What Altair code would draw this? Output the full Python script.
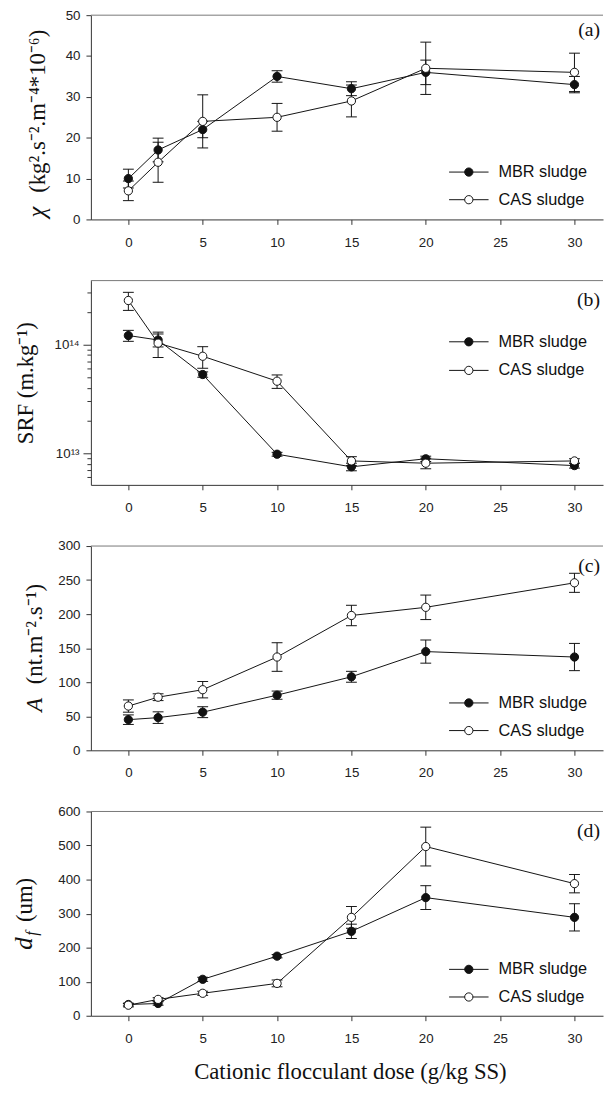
import altair as alt
import pandas as pd

# ---------------- data ----------------
dose = [0, 2, 5, 10, 15, 20, 30]
series_names = ["MBR sludge", "CAS sludge"]

chi_mbr = [10, 17, 22, 35, 32, 36, 33]
chi_mbr_err = [2.3, 2.9, 2.0, 1.4, 1.7, 3.0, 2.0]
chi_cas = [7, 14, 24, 25, 29, 37, 36]
chi_cas_err = [2.4, 4.9, 6.5, 3.4, 3.9, 6.4, 4.7]

srf_mbr = [1.21e14, 1.10e14, 5.3e13, 9.8e12, 7.5e12, 8.9e12, 7.7e12]
srf_mbr_err = [0.14e14, 0.15e14, 0.3e13, 0.4e12, 0.6e12, 0.5e12, 0.4e12]
srf_cas = [2.54e14, 1.03e14, 7.8e13, 4.6e13, 8.5e12, 8.1e12, 8.5e12]
srf_cas_err = [0.48e14, 0.27e14, 1.75e13, 0.65e13, 0.8e12, 0.9e12, 0.4e12]

a_mbr = [45, 48, 56, 81, 108, 145, 137]
a_mbr_err = [7, 8.5, 8, 6, 8, 17, 20]
a_cas = [65, 78, 89, 137, 198, 210, 246]
a_cas_err = [9, 5, 12, 21, 15, 18, 14]

df_mbr = [33, 36, 107, 175, 248, 347, 289]
df_mbr_err = [4, 5, 6, 5, 21, 35, 40]
df_cas = [31, 48, 66, 95, 289, 497, 388]
df_cas_err = [5, 5, 6, 10, 32, 57, 27]

x_ticks = [0, 5, 10, 15, 20, 25, 30]
chi_ticks = [0, 10, 20, 30, 40, 50]
srf_ticks = [6e12, 7e12, 8e12, 9e12, 1e13, 2e13, 3e13, 4e13, 5e13,
             6e13, 7e13, 8e13, 9e13, 1e14, 2e14, 3e14]
srf_major_labels = ["10¹³", "10¹⁴"]
a_ticks = [0, 50, 100, 150, 200, 250, 300]
d_ticks = [0, 100, 200, 300, 400, 500, 600]
panel_labels = ["(a)", "(b)", "(c)", "(d)"]
x_title = "Cationic flocculant dose (g/kg SS)"

# ---------------- style ----------------
W, H = 519, 207
SANS = "Liberation Sans"
SERIF = "Liberation Serif"
INK = "#111111"
AXC = "#333333"

xscale = alt.Scale(domain=[-2.52, 31.92], nice=False, zero=False)
xaxis = alt.Axis(values=x_ticks, title=None, grid=False, tickSize=5,
                 labelFont=SANS, labelFontSize=13.5, labelColor="#222222",
                 labelPadding=11, domainColor=AXC, tickColor=AXC,
                 labelFlush=False)


def long_df(mbr, mbr_err, cas, cas_err):
    rows = []
    for name, vals, errs in ((series_names[0], mbr, mbr_err),
                             (series_names[1], cas, cas_err)):
        for d, v, e in zip(dose, vals, errs):
            rows.append({"dose": d, "series": name, "value": v,
                         "lo": v - e, "hi": v + e})
    return pd.DataFrame(rows)


def text_layer(txt, x, y, size, **kw):
    return alt.Chart(pd.DataFrame({"t": [txt]})).mark_text(
        fontSize=size, color=INK, **kw
    ).encode(x=alt.value(x), y=alt.value(y), text="t:N")


def legend_layers(rows_y):
    out = []
    for name, fill, ry in zip(series_names, [INK, "white"], rows_y):
        base = alt.Chart(pd.DataFrame({"label": [name]}))
        out.append(base.mark_rule(color=INK, strokeWidth=1).encode(
            x=alt.value(363), x2=alt.value(403), y=alt.value(ry)))
        out.append(base.mark_point(shape="circle", filled=True, size=70,
                                   stroke=INK, strokeWidth=1, opacity=1).encode(
            x=alt.value(383), y=alt.value(ry), fill=alt.value(fill)))
        out.append(base.mark_text(align="left", baseline="middle", font=SANS,
                                  fontSize=16.5, color=INK).encode(
            x=alt.value(413), y=alt.value(ry), text="label:N"))
    return out


def panel(data, yscale, yaxis, legend_y, label, label_y, title_layers, extra=()):
    X = alt.X("dose:Q", scale=xscale, axis=xaxis)
    base = alt.Chart(data)
    lines = base.mark_line(color=INK, strokeWidth=1).encode(
        x=X, y=alt.Y("value:Q", scale=yscale, axis=yaxis), detail="series:N")
    bars = base.mark_rule(color=INK, strokeWidth=1).encode(
        x=X, y=alt.Y("lo:Q", scale=yscale, axis=yaxis), y2="hi:Q")
    cap_lo = base.mark_tick(orient="horizontal", size=11, thickness=1, color=INK,
                            opacity=1).encode(
        x=X, y=alt.Y("lo:Q", scale=yscale, axis=yaxis))
    cap_hi = base.mark_tick(orient="horizontal", size=11, thickness=1, color=INK,
                            opacity=1).encode(
        x=X, y=alt.Y("hi:Q", scale=yscale, axis=yaxis))
    pts = base.mark_point(shape="circle", filled=True, size=70, stroke=INK,
                          strokeWidth=1, opacity=1).encode(
        x=X, y=alt.Y("value:Q", scale=yscale, axis=yaxis),
        fill=alt.Fill("series:N", scale=alt.Scale(domain=series_names,
                                                  range=[INK, "white"]),
                      legend=None))
    top = alt.Chart(pd.DataFrame({"k": [0]})).mark_rule(
        color="#777777", strokeWidth=1).encode(
        x=alt.value(0), x2=alt.value(W), y=alt.value(0))
    lab = text_layer(label, 516, label_y, 20, font=SERIF, align="right",
                     baseline="alphabetic")
    layers = [top, lines, bars, cap_lo, cap_hi, pts, lab] + legend_layers(legend_y) \
        + list(title_layers) + list(extra)
    return alt.layer(*layers).properties(width=W, height=H)


def yaxis_lin(vals):
    return alt.Axis(values=vals, title=None, grid=False, tickSize=5,
                    labelFont=SANS, labelFontSize=13.5, labelColor="#222222",
                    labelPadding=6, domainColor=AXC, tickColor=AXC)


major_test = "datum.value == 1e13 || datum.value == 1e14"
yaxis_log = alt.Axis(
    values=srf_ticks, title=None, grid=False,
    tickSize={"condition": {"test": major_test, "value": 8}, "value": 4},
    labelExpr="datum.value == 1e13 ? '" + srf_major_labels[0] + "' : (datum.value == 1e14 ? '"
    + srf_major_labels[1] + "' : '')",
    labelFont=SANS, labelFontSize=13.5, labelColor="#222222", labelPadding=4,
    domainColor=AXC, tickColor=AXC)

rot = dict(angle=270, align="left", baseline="alphabetic", font=SERIF)

# panel (a)
ta = [text_layer("χ", -46, 205, 25, fontStyle="italic", **rot),
      text_layer("(kg².s⁻².m⁻⁴*10⁻⁶)", -46, 180, 23, **rot)]
pa = panel(long_df(chi_mbr, chi_mbr_err, chi_cas, chi_cas_err),
           alt.Scale(domain=[0, 50], nice=False), yaxis_lin(chi_ticks),
           [159, 187], panel_labels[0], 21.5, ta)

# panel (b)
tb = [text_layer("SRF  (m.kg⁻¹)", -59, 104, 23, angle=270, align="center",
                 baseline="alphabetic", font=SERIF)]
pb = panel(long_df(srf_mbr, srf_mbr_err, srf_cas, srf_cas_err),
           alt.Scale(type="log", domain=[5.12e12, 3.87e14], nice=False),
           yaxis_log, [62, 91], panel_labels[1], 26, tb)

# panel (c)
tc = [text_layer("A", -50, 168, 23, fontStyle="italic", **rot),
      text_layer("(nt.m⁻².s⁻¹)", -50, 140, 23, **rot)]
pc = panel(long_df(a_mbr, a_mbr_err, a_cas, a_cas_err),
           alt.Scale(domain=[0, 300], nice=False), yaxis_lin(a_ticks),
           [159, 187], panel_labels[2], 26, tc)

# panel (d)
td = [text_layer("d", -60, 140, 25, fontStyle="italic", **rot),
      text_layer("f", -55, 126, 16, fontStyle="italic", **rot),
      text_layer("(um)", -60, 112, 23, **rot)]
xt = [text_layer(x_title, 263, 271, 23, font=SERIF, align="center",
                 baseline="alphabetic")]
pd_ = panel(long_df(df_mbr, df_mbr_err, df_cas, df_cas_err),
            alt.Scale(domain=[0, 600], nice=False), yaxis_lin(d_ticks),
            [160, 188], panel_labels[3], 26, td, xt)

chart = alt.vconcat(pa, pb, pc, pd_, spacing=62, bounds="flush").properties(
    padding={"left": 4, "top": -7, "right": 0, "bottom": 0}
).configure_view(strokeWidth=0)

chart.save("out.html", embed_options={"renderer": "svg", "actions": False})
